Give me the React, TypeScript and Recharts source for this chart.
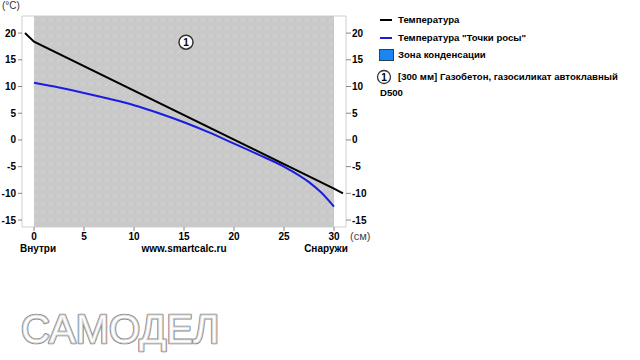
import React from 'react';
import { LineChart, Line, XAxis, YAxis, ReferenceArea, ReferenceDot } from 'recharts';

const xTicks = [0, 5, 10, 15, 20, 25, 30];
const yTicks = [-15, -10, -5, 0, 5, 10, 15, 20];

const tempX = [-0.9, 0, 30, 30.9];
const tempY = [20, 18.4, -9.1, -10];

const dewX = [0, 2.5, 5, 7.5, 10, 12.5, 15, 17.5, 20, 22.5, 25, 27.5, 28.75, 30];
const dewY = [10.7, 9.8, 8.8, 7.7, 6.5, 5.0, 3.3, 1.4, -0.7, -2.8, -5.0, -7.9, -9.9, -12.5];

const layerStart = 0;
const layerEnd = 30;
const layerLabel = '1';
const layerMarkX = 15.2;
const layerMarkY = 18.3;

const legendItems = ['Температура', 'Температура "Точки росы"', 'Зона конденсации'];
const layerText = '[300 мм] Газобетон, газосиликат автоклавный';
const layerText2 = 'D500';

const tempData = tempX.map((x, i) => ({ x, v: tempY[i] }));
const dewData = dewX.map((x, i) => ({ x, v: dewY[i] }));

const font = '"Liberation Sans", Arial, sans-serif';
const tickStyle = { fill: '#000', fontSize: 10, fontWeight: 'bold' as const, fontFamily: font };
const legendFont = 9.6;

export default function App() {
  return (
    <div style={{ position: 'absolute', left: 0, top: 0, width: 640, height: 360, background: '#fff', fontFamily: font }}>
      <svg width={0} height={0} style={{ position: 'absolute' }}>
        <defs>
          <pattern id="hatch" width={8} height={8} patternUnits="userSpaceOnUse">
            <rect width={8} height={8} fill="#c9c9c9" />
            <line x1={1} y1={6} x2={4.5} y2={2.5} stroke="#d8d8d8" strokeWidth={1} />
          </pattern>
        </defs>
      </svg>
      <LineChart width={640} height={360} data={tempData} margin={{ top: 16, right: 264, bottom: 113, left: 0 }}>
        <XAxis
          dataKey="x"
          type="number"
          domain={[-1.2, 31.2]}
          ticks={xTicks}
          allowDataOverflow
          axisLine={false}
          tickLine={{ stroke: '#888' }}
          tickSize={4}
          tick={tickStyle}
          height={20}
        />
        <YAxis
          yAxisId="left"
          type="number"
          domain={[-16.3, 23.2]}
          ticks={yTicks}
          allowDataOverflow
          axisLine={false}
          tickLine={{ stroke: '#888' }}
          tickSize={4}
          tick={tickStyle}
          width={22}
        />
        <YAxis
          yAxisId="right"
          orientation="right"
          type="number"
          domain={[-16.3, 23.2]}
          ticks={yTicks}
          allowDataOverflow
          axisLine={false}
          tickLine={{ stroke: '#888' }}
          tickSize={5}
          tickMargin={1}
          tick={tickStyle}
          width={30}
        />
        <ReferenceArea yAxisId="left" x1={-1.2} x2={31.2} y1={-16.3} y2={23.2} fill="#fff" fillOpacity={1} stroke="#cfcfcf" strokeWidth={1} ifOverflow="visible" />
        <ReferenceArea yAxisId="left" x1={layerStart} x2={layerEnd} y1={-16.3} y2={23.2} fill="url(#hatch)" fillOpacity={1} stroke="none" />
        <ReferenceDot
          yAxisId="left"
          x={layerMarkX}
          y={layerMarkY}
          r={7}
          fill="#fff"
          stroke="#333"
          strokeWidth={1.5}
          label={{ value: layerLabel, position: 'center', fontSize: 10, fontWeight: 'bold', fill: '#000', fontFamily: font }}
        />
        <Line yAxisId="left" data={dewData} dataKey="v" type="monotone" stroke="#1c1ce0" strokeWidth={2} dot={false} isAnimationActive={false} />
        <Line yAxisId="left" data={tempData} dataKey="v" type="linear" stroke="#000" strokeWidth={2} dot={false} isAnimationActive={false} />
      </LineChart>

      <div style={{ position: 'absolute', left: 2, top: 0, fontSize: 10, lineHeight: '12px', color: '#333' }}>(°C)</div>
      <div style={{ position: 'absolute', left: 350, top: 230, fontSize: 11, color: '#444' }}>(см)</div>
      <div style={{ position: 'absolute', left: 20, top: 243, fontSize: 10, fontWeight: 'bold' }}>Внутри</div>
      <div style={{ position: 'absolute', left: 184, top: 243, fontSize: 10, fontWeight: 'bold', transform: 'translateX(-50%)' }}>www.smartcalc.ru</div>
      <div style={{ position: 'absolute', left: 326, top: 243, fontSize: 10, fontWeight: 'bold', transform: 'translateX(-50%)' }}>Снаружи</div>

      <div style={{ position: 'absolute', left: 380, top: 19, width: 12, height: 2, background: '#000' }} />
      <div style={{ position: 'absolute', left: 398, top: 14, fontSize: legendFont, fontWeight: 'bold' }}>{legendItems[0]}</div>
      <div style={{ position: 'absolute', left: 380, top: 37, width: 12, height: 2, background: '#1c1ce0' }} />
      <div style={{ position: 'absolute', left: 398, top: 32, fontSize: legendFont, fontWeight: 'bold' }}>{legendItems[1]}</div>
      <div style={{ position: 'absolute', left: 379, top: 49, width: 13, height: 10, background: '#1a86f2', border: '1px solid #245' }} />
      <div style={{ position: 'absolute', left: 398, top: 49, fontSize: legendFont, fontWeight: 'bold' }}>{legendItems[2]}</div>
      <svg style={{ position: 'absolute', left: 376, top: 69 }} width={16} height={16}>
        <circle cx={8} cy={8} r={6.5} fill="#fff" stroke="#333" strokeWidth={1.3} />
        <text x={8} y={11.5} textAnchor="middle" fontSize={10} fontWeight="bold" fontFamily={font}>{layerLabel}</text>
      </svg>
      <div style={{ position: 'absolute', left: 398, top: 71, fontSize: legendFont, fontWeight: 'bold', whiteSpace: 'nowrap' }}>{layerText}</div>
      <div style={{ position: 'absolute', left: 380, top: 87, fontSize: legendFont, fontWeight: 'bold' }}>{layerText2}</div>

      <svg style={{ position: 'absolute', left: 0, top: 300 }} width={260} height={60}>
        <text x={21} y={43} fontSize={40} fontFamily={font} fill="#fff" stroke="#8a8a8a" strokeWidth={2.6} strokeLinejoin="round">САМОДЕЛ</text>
        <text x={21} y={43} fontSize={40} fontFamily={font} fill="#fff" stroke="#d4d4d4" strokeWidth={0.8}>САМОДЕЛ</text>
      </svg>
    </div>
  );
}
